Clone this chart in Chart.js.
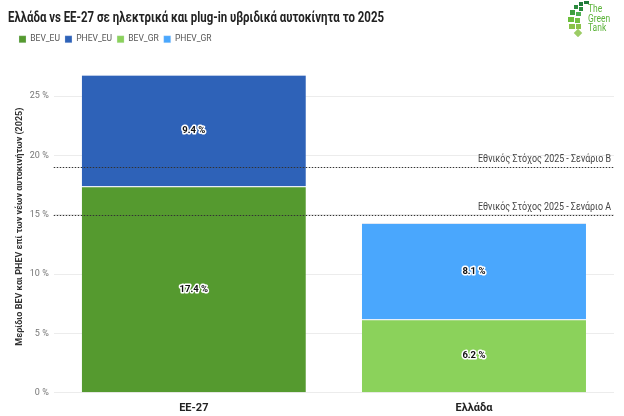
<!DOCTYPE html>
<html><head><meta charset="utf-8">
<script src="https://cdn.jsdelivr.net/npm/chart.js@4"></script>
<style>
html,body{margin:0;padding:0;background:#fff;}
#wrap{position:relative;width:624px;height:416px;}
#logo{position:absolute;left:566px;top:1px;width:56px;height:36px;}
#logo .t{position:absolute;left:22px;top:3px;font-family:Roboto,sans-serif;font-size:10px;line-height:9.5px;color:#5cb33a;transform:scaleX(0.85);transform-origin:left top;}
</style></head>
<body><div id="wrap"><canvas id="c" width="624" height="416"></canvas>
<div id="logo">
<svg width="24" height="36" style="position:absolute;left:0;top:0">
<rect x="13" y="1" width="4" height="4" fill="#1f7a3a"/><rect x="18" y="0" width="5" height="3" fill="#1f7a3a"/>
<rect x="8" y="4" width="4" height="4" fill="#2b8a3e"/><rect x="13" y="6" width="4" height="4" fill="#2b8a3e"/>
<rect x="4" y="9" width="5" height="5" fill="#3f9f3f"/><rect x="10" y="11" width="5" height="4" fill="#4caf50"/>
<rect x="2" y="16" width="6" height="5" fill="#6cbf3c"/><rect x="9" y="17" width="5" height="5" fill="#74c043"/>
<rect x="3" y="23" width="6" height="5" fill="#8bc34a"/><rect x="10" y="23" width="5" height="5" fill="#8bc34a"/>
<rect x="9" y="29" width="6" height="6" fill="#9ccc65" transform="rotate(45 12 32)"/>
</svg>
<div class="t">The<br>Green<br>Tank</div></div>
</div>
<script>
const categories = ["ΕΕ-27", "Ελλάδα"];
const seriesNames = ["BEV_EU", "PHEV_EU", "BEV_GR", "PHEV_GR"];
const bevEU = [17.4, null];
const phevEU = [9.4, null];
const bevGR = [null, 6.2];
const phevGR = [null, 8.1];
const seriesColors = ["#559a2f", "#2e62b8", "#8bd25b", "#4aa7fd"];
const targetValues = [15, 19];
const targetLabels = ["Εθνικός Στόχος 2025 - Σενάριο Α", "Εθνικός Στόχος 2025 - Σενάριο Β"];
const yTickValues = [0, 5, 10, 15, 20, 25];
const titleText = 'Ελλάδα vs ΕΕ-27 σε ηλεκτρικά και plug-in υβριδικά αυτοκίνητα το 2025';

const FONT = 'Roboto,"Liberation Sans",sans-serif';

function drawSqueezed(ctx, txt, x, y, sx) {
  ctx.save();
  ctx.translate(x, y);
  ctx.scale(sx, 1);
  ctx.fillText(txt, 0, 0);
  ctx.restore();
}

const legendGap = {
  id: 'legendGap',
  beforeInit(chart) {
    const lg = chart.legend;
    if (!lg) return;
    const orig = lg.fit;
    lg.fit = function () { orig.call(this); this.height += 7; };
  }
};

const titlePlugin = {
  id: 'sqTitle',
  afterDraw(chart) {
    const {ctx} = chart;
    ctx.save();
    ctx.font = 'bold 15px ' + FONT;
    ctx.fillStyle = '#222';
    ctx.textAlign = 'left';
    ctx.textBaseline = 'middle';
    const w = ctx.measureText(titleText).width;
    drawSqueezed(ctx, titleText, 8, 18, 376 / w);
    ctx.restore();
  }
};

const targetPlugin = {
  id: 'targets',
  afterDatasetsDraw(chart) {
    const {ctx, chartArea, scales} = chart;
    ctx.save();
    targetValues.forEach((v, i) => {
      const y = Math.round(scales.y.getPixelForValue(v)) + 0.5;
      ctx.setLineDash([1.5, 1.5]);
      ctx.strokeStyle = '#333';
      ctx.lineWidth = 1.2;
      ctx.beginPath();
      ctx.moveTo(chartArea.left, y);
      ctx.lineTo(chartArea.right, y);
      ctx.stroke();
      ctx.setLineDash([]);
      ctx.fillStyle = '#444';
      ctx.font = '11px ' + FONT;
      ctx.textAlign = 'left';
      ctx.textBaseline = 'bottom';
      const w = ctx.measureText(targetLabels[i]).width;
      const sx = 133 / w;
      drawSqueezed(ctx, targetLabels[i], chartArea.right - 3 - 133, y - 3, sx);
    });
    ctx.restore();
  }
};

const labelPlugin = {
  id: 'valLabels',
  afterDatasetsDraw(chart) {
    const {ctx} = chart;
    ctx.save();
    ctx.font = 'bold 9.5px ' + FONT;
    ctx.textAlign = 'center';
    ctx.textBaseline = 'middle';
    chart.data.datasets.forEach((ds, di) => {
      const meta = chart.getDatasetMeta(di);
      meta.data.forEach((bar, idx) => {
        const v = ds.data[idx];
        if (v == null) return;
        const yc = (bar.y + bar.base) / 2;
        const txt = v.toFixed(1) + ' %';
        ctx.lineWidth = 3;
        ctx.strokeStyle = '#fff';
        ctx.lineJoin = 'round';
        ctx.strokeText(txt, bar.x, yc);
        ctx.fillStyle = '#111';
        ctx.fillText(txt, bar.x, yc);
      });
    });
    ctx.restore();
  }
};

const data = {
  labels: categories,
  datasets: [bevEU, phevEU, bevGR, phevGR].map((d, i) => ({
    label: seriesNames[i],
    data: d,
    backgroundColor: seriesColors[i],
    borderColor: '#dfe8f5',
    borderWidth: {top: 1, bottom: 0, left: 0, right: 0},
    borderSkipped: false,
    stack: 's'
  }))
};

new Chart(document.getElementById('c'), {
  type: 'bar',
  data,
  plugins: [legendGap, titlePlugin, targetPlugin, labelPlugin],
  options: {
    responsive: false,
    animation: false,
    layout: {padding: {left: 14, right: 10, top: 30, bottom: 0}},
    categoryPercentage: 0.8,
    barPercentage: 1.0,
    plugins: {
      title: {display: false},
      legend: {
        align: 'start',
        labels: {boxWidth: 7, boxHeight: 7, padding: 5, color: '#555', font: {family: FONT, size: 8.5}}
      },
      tooltip: {enabled: false}
    },
    scales: {
      x: {
        stacked: true,
        grid: {display: false},
        border: {display: false},
        ticks: {color: '#222', font: {family: FONT, size: 11, weight: 'bold'}, padding: 1}
      },
      y: {
        stacked: true,
        min: 0, max: 28,
        afterBuildTicks(axis) { axis.ticks = yTickValues.map(v => ({value: v})); },
        grid: {color: '#ececec', drawTicks: false},
        border: {display: false},
        ticks: {color: '#777', font: {family: FONT, size: 9}, padding: 5, callback: v => v + ' %'},
        title: {display: true, text: 'Μερίδιο BEV και PHEV επί των νέων αυτοκινήτων (2025)', color: '#333', font: {family: FONT, size: 9, weight: 'bold'}, padding: 0}
      }
    }
  }
});
</script></body></html>
